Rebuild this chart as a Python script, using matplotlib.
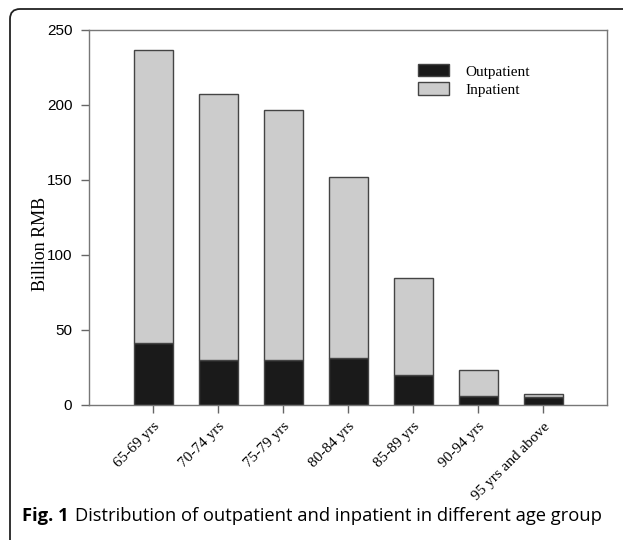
import numpy as np
import matplotlib
matplotlib.use("Agg")
import matplotlib.pyplot as plt
from matplotlib.path import Path
from matplotlib.patches import PathPatch

# values (billion RMB)
age_groups = ["65-69 yrs", "70-74 yrs", "75-79 yrs", "80-84 yrs",
              "85-89 yrs", "90-94 yrs", "95 yrs and above"]
outpatient = [41, 30, 30, 31, 20, 6, 5]
totals = [236.5, 207.5, 196.5, 152, 84.5, 23.5, 7.5]
inpatient = [t - o for t, o in zip(totals, outpatient)]
y_ticks = [0, 50, 100, 150, 200, 250]

fig = plt.figure(figsize=(6.27, 5.42), dpi=100)
ax = fig.add_axes([0.142, 0.253, 0.826, 0.692])

x = np.arange(len(age_groups))
ax.bar(x, outpatient, width=0.6, color="#1a1a1a", edgecolor="#444444",
       linewidth=1, label="Outpatient")
ax.bar(x, inpatient, width=0.6, bottom=outpatient, color="#cccccc",
       edgecolor="#444444", linewidth=1, label="Inpatient")

ax.set_xlim(-0.99, 6.98)
ax.set_ylim(0, 250)
ax.set_yticks(y_ticks)
ax.set_yticklabels([str(v) for v in y_ticks], family="Liberation Sans", fontsize=11)
ax.set_xticks(x)
ax.set_xticklabels(age_groups, rotation=45, ha="right", rotation_mode="anchor",
                   family="Liberation Serif", fontsize=11)
ax.tick_params(axis="both", direction="out", length=6, color="#666666", width=1)
ax.tick_params(axis="y", pad=6)
ax.tick_params(axis="x", pad=5)
for s in ax.spines.values():
    s.set_color("#777777")
    s.set_linewidth(1)

ax.set_ylabel("Billion RMB", family="Liberation Serif", fontsize=13)
ax.yaxis.set_label_coords(-0.078, 0.43)

leg = ax.legend(loc="upper right", bbox_to_anchor=(0.878, 0.945), frameon=False,
                prop={"family": "Liberation Serif", "size": 11},
                handlelength=2.0, handleheight=0.85, labelspacing=0.25,
                handletextpad=1.1)

# caption: bold "Fig. 1" then the regular text right after it
cap_y = 0.038
t1 = fig.text(0.035, cap_y, "Fig. 1", family="Open Sans", weight="bold", fontsize=13.2)
fig.canvas.draw()
bb = t1.get_window_extent(renderer=fig.canvas.get_renderer())
fig.text((bb.x1 + 6) / fig.bbox.width, cap_y,
         "Distribution of outpatient and inpatient in different age group",
         family="Open Sans", fontsize=13.2)

# rounded frame: left side and top only
W, H = 627.0, 542.0
r = 10.0
verts = [(10 / W, 2 / H), (10 / W, (H - 9 - r) / H), (10 / W, (H - 9) / H),
         ((10 + r) / W, (H - 9) / H), (623 / W, (H - 9) / H)]
codes = [Path.MOVETO, Path.LINETO, Path.CURVE3, Path.CURVE3, Path.LINETO]
fig.patches.append(PathPatch(Path(verts, codes), transform=fig.transFigure,
                             fill=False, edgecolor="#222222", linewidth=1.3))

fig.savefig("out.png", dpi=100)
